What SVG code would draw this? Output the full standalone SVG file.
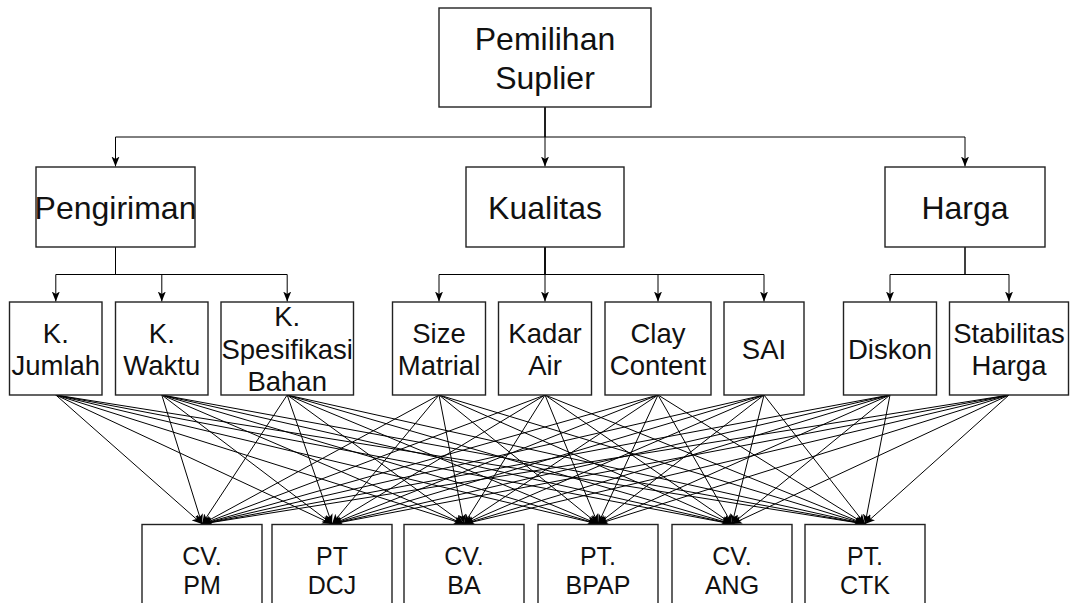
<svg xmlns="http://www.w3.org/2000/svg" width="1070" height="603" viewBox="0 0 1070 603">
<defs>
<marker id="arr" markerUnits="userSpaceOnUse" markerWidth="11" markerHeight="9" refX="10" refY="4" orient="auto">
<path d="M0,0 L10,4 L0,8 L2.5,4 z" fill="#000"/>
</marker>
<style>
.box{fill:#fff;stroke:#222;stroke-width:1.4}
.t{font-family:"Liberation Sans",Arial,sans-serif;fill:#111;text-anchor:middle}
.t1{font-size:32px}
.t3{font-size:27.5px}
.t4{font-size:25px}
.e{fill:none;stroke:#000;stroke-width:1;marker-end:url(#arr)}
</style>
</defs>
<rect width="1070" height="603" fill="#fff"/>
<g id="connectors">
<path class="e" d="M545,107 V137 H115.5 V166.5"/>
<path class="e" d="M545,107 V166.5"/>
<path class="e" d="M545,107 V137 H965 V166.5"/>
<path class="e" d="M115.5,247 V274.5 H55.8 V301.5"/>
<path class="e" d="M115.5,247 V274.5 H161.8 V301.5"/>
<path class="e" d="M115.5,247 V274.5 H287.2 V301.5"/>
<path class="e" d="M545,247 V274.5 H439 V301.5"/>
<path class="e" d="M545,247 V301.5"/>
<path class="e" d="M545,247 V274.5 H658 V301.5"/>
<path class="e" d="M545,247 V274.5 H764 V301.5"/>
<path class="e" d="M965,247 V274.5 H890 V301.5"/>
<path class="e" d="M965,247 V274.5 H1009 V301.5"/>
<g id="mesh">
<path class="e" d="M55.8,395 L202,524"/><path class="e" d="M55.8,395 L332,524"/><path class="e" d="M55.8,395 L464,524"/><path class="e" d="M55.8,395 L598,524"/><path class="e" d="M55.8,395 L732,524"/><path class="e" d="M55.8,395 L865,524"/>
<path class="e" d="M161.8,395 L202,524"/><path class="e" d="M161.8,395 L332,524"/><path class="e" d="M161.8,395 L464,524"/><path class="e" d="M161.8,395 L598,524"/><path class="e" d="M161.8,395 L732,524"/><path class="e" d="M161.8,395 L865,524"/>
<path class="e" d="M287.2,395 L202,524"/><path class="e" d="M287.2,395 L332,524"/><path class="e" d="M287.2,395 L464,524"/><path class="e" d="M287.2,395 L598,524"/><path class="e" d="M287.2,395 L732,524"/><path class="e" d="M287.2,395 L865,524"/>
<path class="e" d="M439,395 L202,524"/><path class="e" d="M439,395 L332,524"/><path class="e" d="M439,395 L464,524"/><path class="e" d="M439,395 L598,524"/><path class="e" d="M439,395 L732,524"/><path class="e" d="M439,395 L865,524"/>
<path class="e" d="M545,395 L202,524"/><path class="e" d="M545,395 L332,524"/><path class="e" d="M545,395 L464,524"/><path class="e" d="M545,395 L598,524"/><path class="e" d="M545,395 L732,524"/><path class="e" d="M545,395 L865,524"/>
<path class="e" d="M658,395 L202,524"/><path class="e" d="M658,395 L332,524"/><path class="e" d="M658,395 L464,524"/><path class="e" d="M658,395 L598,524"/><path class="e" d="M658,395 L732,524"/><path class="e" d="M658,395 L865,524"/>
<path class="e" d="M764,395 L202,524"/><path class="e" d="M764,395 L332,524"/><path class="e" d="M764,395 L464,524"/><path class="e" d="M764,395 L598,524"/><path class="e" d="M764,395 L732,524"/><path class="e" d="M764,395 L865,524"/>
<path class="e" d="M890,395 L202,524"/><path class="e" d="M890,395 L332,524"/><path class="e" d="M890,395 L464,524"/><path class="e" d="M890,395 L598,524"/><path class="e" d="M890,395 L732,524"/><path class="e" d="M890,395 L865,524"/>
<path class="e" d="M1009,395 L202,524"/><path class="e" d="M1009,395 L332,524"/><path class="e" d="M1009,395 L464,524"/><path class="e" d="M1009,395 L598,524"/><path class="e" d="M1009,395 L732,524"/><path class="e" d="M1009,395 L865,524"/>
</g>
</g>
<g id="pemilihan"><rect class="box" x="439" y="8" width="212" height="99"/><text class="t t1" x="545" y="50">Pemilihan</text><text class="t t1" x="545" y="88.5">Suplier</text></g>
<g id="pengiriman"><rect class="box" x="36" y="167" width="159" height="80"/><text class="t t1" x="115.5" y="218.5">Pengiriman</text></g>
<g id="kualitas"><rect class="box" x="466" y="167" width="158" height="80"/><text class="t t1" x="545" y="218.5">Kualitas</text></g>
<g id="harga"><rect class="box" x="885" y="167" width="160" height="80"/><text class="t t1" x="965" y="218.5">Harga</text></g>
<g id="k-jumlah"><rect class="box" x="9.5" y="302" width="92.5" height="93"/><text class="t t3" x="55.8" y="342.5">K.</text><text class="t t3" x="55.8" y="375">Jumlah</text></g>
<g id="k-waktu"><rect class="box" x="115.5" y="302" width="92.5" height="93"/><text class="t t3" x="161.8" y="342.5">K.</text><text class="t t3" x="161.8" y="375">Waktu</text></g>
<g id="k-spesifikasi"><rect class="box" x="221" y="302" width="132.5" height="93"/><text class="t t3" x="287.2" y="326">K.</text><text class="t t3" x="287.2" y="358.5">Spesifikasi</text><text class="t t3" x="287.2" y="391">Bahan</text></g>
<g id="size-matrial"><rect class="box" x="392.5" y="302" width="93" height="93"/><text class="t t3" x="439" y="342.5">Size</text><text class="t t3" x="439" y="375">Matrial</text></g>
<g id="kadar-air"><rect class="box" x="498.5" y="302" width="93" height="93"/><text class="t t3" x="545" y="342.5">Kadar</text><text class="t t3" x="545" y="375">Air</text></g>
<g id="clay-content"><rect class="box" x="605" y="302" width="106" height="93"/><text class="t t3" x="658" y="342.5">Clay</text><text class="t t3" x="658" y="375">Content</text></g>
<g id="sai"><rect class="box" x="724" y="302" width="80" height="93"/><text class="t t3" x="764" y="358.5">SAI</text></g>
<g id="diskon"><rect class="box" x="843.5" y="302" width="93" height="93"/><text class="t t3" x="890" y="358.5">Diskon</text></g>
<g id="stabilitas-harga"><rect class="box" x="949.5" y="302" width="119" height="93"/><text class="t t3" x="1009" y="342.5">Stabilitas</text><text class="t t3" x="1009" y="375">Harga</text></g>
<g id="cv-pm"><rect class="box" x="142" y="524.5" width="120" height="93"/><text class="t t4" x="202" y="565">CV.</text><text class="t t4" x="202" y="593.5">PM</text></g>
<g id="pt-dcj"><rect class="box" x="272" y="524.5" width="120" height="93"/><text class="t t4" x="332" y="565">PT</text><text class="t t4" x="332" y="593.5">DCJ</text></g>
<g id="cv-ba"><rect class="box" x="404" y="524.5" width="120" height="93"/><text class="t t4" x="464" y="565">CV.</text><text class="t t4" x="464" y="593.5">BA</text></g>
<g id="pt-bpap"><rect class="box" x="538" y="524.5" width="120" height="93"/><text class="t t4" x="598" y="565">PT.</text><text class="t t4" x="598" y="593.5">BPAP</text></g>
<g id="cv-ang"><rect class="box" x="672" y="524.5" width="120" height="93"/><text class="t t4" x="732" y="565">CV.</text><text class="t t4" x="732" y="593.5">ANG</text></g>
<g id="pt-ctk"><rect class="box" x="805" y="524.5" width="120" height="93"/><text class="t t4" x="865" y="565">PT.</text><text class="t t4" x="865" y="593.5">CTK</text></g>
</svg>
